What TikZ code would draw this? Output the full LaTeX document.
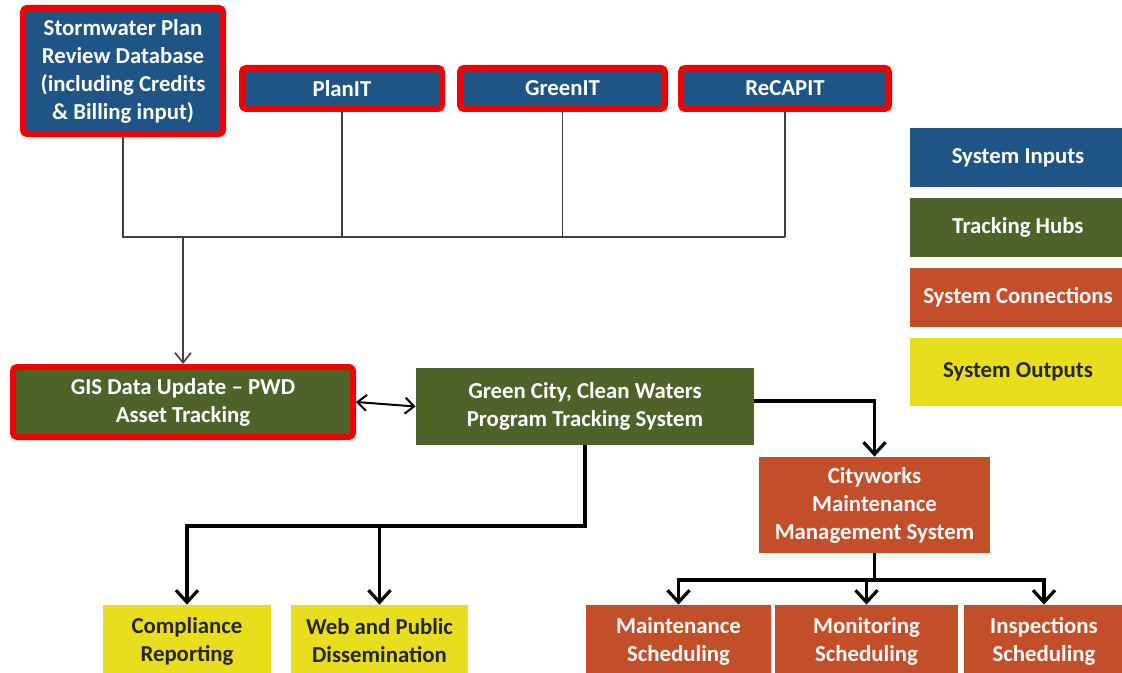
\documentclass[tikz,border=0pt]{standalone}
\usepackage{fontspec}
\setmainfont{Carlito}
\usetikzlibrary{arrows.meta}

\definecolor{inblue}{RGB}{31,85,134}
\definecolor{hubgreen}{RGB}{78,99,42}
\definecolor{conred}{RGB}{195,78,42}
\definecolor{outyellow}{RGB}{232,222,30}
\definecolor{bordred}{RGB}{240,0,0}

\tikzset{
  sysbox/.style={rectangle, inner sep=0pt, align=center, text=white,
    font=\fontsize{11.4}{14}\selectfont\bfseries},
  inbox/.style={sysbox, fill=inblue, draw=bordred, line width=3pt, rounded corners=2pt},
  hubbox/.style={sysbox, fill=hubgreen},
  conbox/.style={sysbox, fill=conred},
  outbox/.style={sysbox, fill=outyellow, text=black!85},
  thinline/.style={draw=black!75, line width=0.8pt},
  thinarrow/.style={thinline, -{Straight Barb[length=5pt,width=8pt]}},
  linkarrow/.style={draw=black, line width=1pt,
    {Straight Barb[length=4.5pt,width=8pt]}-{Straight Barb[length=4.5pt,width=8pt]}},
  thickarrow/.style={draw=black, line width=1.6pt, -{Straight Barb[length=6pt,width=11pt]}}
}

\begin{document}
\begin{tikzpicture}[x=0.5pt, y=-0.5pt]
    \path[use as bounding box, clip] (0,0) rectangle (1122,673);

    % system inputs
    \node[inbox, minimum width=100pt, minimum height=63pt] (storm) at (123,71)
        {Stormwater Plan\\Review Database\\(including Credits\\\& Billing input)};
    \foreach \n/\x/\w/\t in {planit/342/100pt/PlanIT, greenit/562.5/102.5pt/GreenIT, recapit/785/104pt/ReCAPIT}
    \node[inbox, minimum width=\w, minimum height=20.5pt] (\n) at (\x,88.5) {\t};

    % tracking hubs
    \node[inbox, fill=hubgreen, minimum width=170pt, minimum height=35pt] (gis) at (183,402)
        {GIS Data Update -- PWD\\Asset Tracking};
    \node[hubbox, minimum width=169pt, minimum height=38.5pt] (gcwater) at (585,406.5)
        {Green City, Clean Waters\\Program Tracking System};

    % system connections
    \node[conbox, minimum width=115.5pt, minimum height=48pt] (cityworks) at (874.5,505)
        {Cityworks\\Maintenance\\Management System};
    \node[conbox, minimum width=92.5pt, minimum height=36pt] (maint) at (678.5,641) {Maintenance\\Scheduling};
    \node[conbox, minimum width=91.5pt, minimum height=36pt] (monit) at (866.5,641) {Monitoring\\Scheduling};
    \node[conbox, minimum width=80pt, minimum height=36pt] (insp) at (1044,641) {Inspections\\Scheduling};

    % system outputs
    \node[outbox, minimum width=84pt, minimum height=36pt] (compliance) at (187,641) {Compliance\\Reporting};
    \node[outbox, minimum width=88.5pt, minimum height=36pt] (web) at (379.5,641) {Web and Public\\Dissemination};

    % legend
    \node[sysbox, fill=inblue, minimum width=108pt, minimum height=29.5pt] (leginputs) at (1018,157.5) {System Inputs};
    \node[hubbox, minimum width=108pt, minimum height=29.5pt] (leghubs) at (1018,227.5) {Tracking Hubs};
    \node[conbox, minimum width=108pt, minimum height=29.5pt] (legconn) at (1018,297.5) {System Connections};
    \node[outbox, minimum width=108pt, minimum height=34pt] (legout) at (1018,372) {System Outputs};

    % helper rows for the connectors
    \coordinate (bus) at (0,237);
    \coordinate (split) at (0,526);
    \coordinate (fan) at (0,580);

    % inputs to GIS
    \draw[thinline] (storm.south) |- (recapit.south |- bus);
    \foreach \n in {planit, greenit, recapit}
    \draw[thinline] (\n.south) -- (\n.south |- bus);
    \draw[thinarrow] (gis.north |- bus) -- (gis.north);

    % hubs and connections
    \draw[linkarrow] (gis.east) -- (gcwater.west);
    \draw[thickarrow] ([yshift=2.75pt]gcwater.east) -| (cityworks.north);
    \foreach \n in {compliance, web}
    \draw[thickarrow] (gcwater.south) |- (\n.north |- split) -- (\n.north);
    \foreach \n in {maint, monit, insp}
    \draw[thickarrow] (cityworks.south) |- (\n.north |- fan) -- (\n.north);
\end{tikzpicture}
\end{document}
